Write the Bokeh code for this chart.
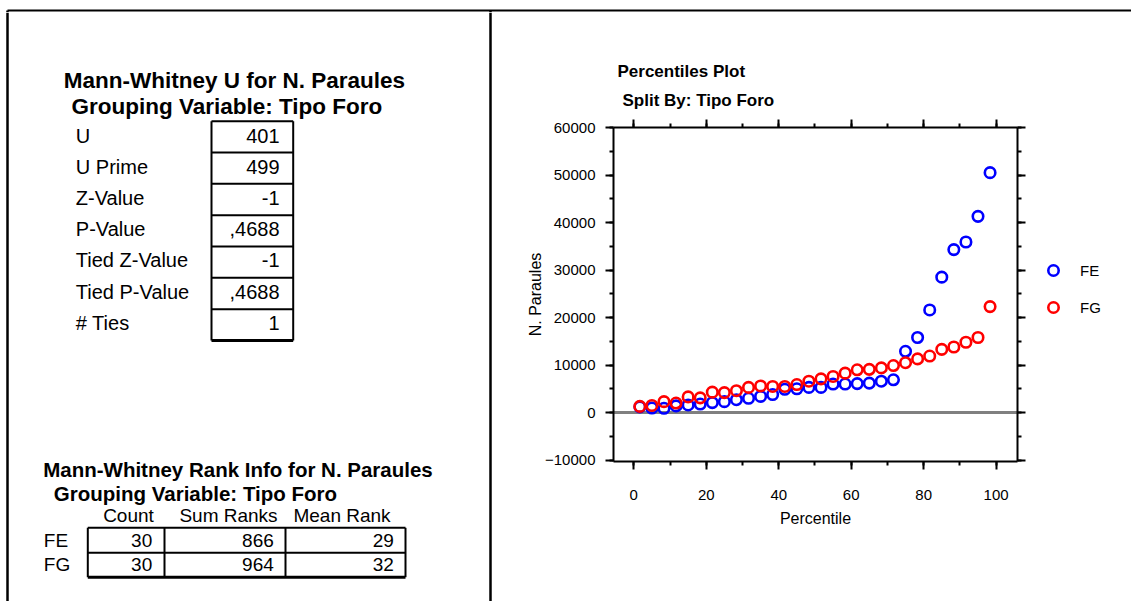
from bokeh.plotting import figure
from bokeh.layouts import column, row
from bokeh.models import (Range1d, LinearAxis, SingleIntervalTicker, Span, Legend, LegendItem,
                          Title, CustomJSTickFormatter)
from bokeh.core.properties import value
from bokeh.embed import file_html
from bokeh.resources import INLINE

FONT = "Liberation Sans"

# ---- Mann-Whitney U summary ----
stat_names = ["U", "U Prime", "Z-Value", "P-Value", "Tied Z-Value", "Tied P-Value", "# Ties"]
stat_values = ["401", "499", "-1", ",4688", "-1", ",4688", "1"]

# ---- Rank info ----
rank_groups = ["FE", "FG"]
rank_headers = ["Count", "Sum Ranks", "Mean Rank"]
rank_count = [30, 30]
rank_sum = [866, 964]
rank_mean = [29, 32]

# ---- Percentiles plot ----
percentile = [1.67, 5.0, 8.33, 11.67, 15.0, 18.33, 21.67, 25.0, 28.33, 31.67,
              35.0, 38.33, 41.67, 45.0, 48.33, 51.67, 55.0, 58.33, 61.67, 65.0,
              68.33, 71.67, 75.0, 78.33, 81.67, 85.0, 88.33, 91.67, 95.0, 98.33]
fe_words = [1200, 950, 900, 1400, 1600, 1800, 2100, 2300, 2700, 3000,
            3400, 3800, 4900, 5000, 5300, 5300, 6000, 6000, 6100, 6200,
            6600, 6900, 12900, 15800, 21600, 28500, 34300, 35900, 41300, 50500]
fg_words = [1300, 1500, 2300, 2000, 3300, 3100, 4300, 4200, 4600, 5300,
            5600, 5500, 5500, 5900, 6600, 7100, 7600, 8300, 9000, 9100,
            9400, 9900, 10500, 11300, 11900, 13300, 13800, 14800, 15800, 22300]
series_names = ["FE", "FG"]
series_colors = ["#0000FF", "#FF0000"]

MARKER = dict(marker="circle", size=10.5, fill_color=None, line_width=2.6)


def bare(fig):
    fig.grid.visible = False
    fig.outline_line_color = None
    fig.background_fill_color = "white"
    fig.border_fill_color = "white"
    fig.frame_align = False
    return fig


def write(fig, xs, ys, texts, size, align="left", bold=False):
    fig.text(x=xs, y=ys, text=texts, text_font=value(FONT), text_font_size=size,
             text_font_style="bold" if bold else "normal", text_baseline="middle",
             text_align=align, text_color="black")


# ---- top border strip ----
strip = bare(figure(width=1131, height=12, x_range=Range1d(0, 1131), y_range=Range1d(12, 0),
                    toolbar_location=None, output_backend="svg", min_border=0,
                    x_axis_location=None, y_axis_location=None))
strip.segment(x0=[7], y0=[10], x1=[1131], y1=[10], line_color="black", line_width=2)
strip.segment(x0=[7, 490], y0=[10, 10], x1=[7, 490], y1=[12, 12], line_color="black", line_width=2.5)

# ---- left panel: statistics tables (page pixel coordinates, y downwards) ----
left = bare(figure(width=492, height=589, x_range=Range1d(0, 492), y_range=Range1d(601, 12),
                   toolbar_location=None, output_backend="svg", min_border=0,
                   x_axis_location=None, y_axis_location=None))
left.segment(x0=[7, 490], y0=[12, 12], x1=[7, 490], y1=[601, 601], line_color="black", line_width=2.5)

write(left, [63.3, 71], [80, 106],
      ["Mann-Whitney U for N. Paraules", "Grouping Variable: Tipo Foro"], "22.5px", bold=True)

row_mid = [135 + 31.2 * i for i in range(len(stat_names))]
write(left, [75.3] * len(stat_names), row_mid, stat_names, "20px")
write(left, [279] * len(stat_values), row_mid, stat_values, "20px", align="right")

box_y = [120.7 + 31.33 * i for i in range(len(stat_names) + 1)]
left.segment(x0=[211] * 7, y0=box_y[:-1], x1=[292.7] * 7, y1=box_y[:-1], line_color="black", line_width=2)
left.segment(x0=[211], y0=[box_y[-1]], x1=[292.7], y1=[box_y[-1]], line_color="black", line_width=3)
left.segment(x0=[211, 292.7], y0=[box_y[0]] * 2, x1=[211, 292.7], y1=[box_y[-1]] * 2,
             line_color="black", line_width=2)

write(left, [42.7, 53.3], [469, 492.5],
      ["Mann-Whitney Rank Info for N. Paraules", "Grouping Variable: Tipo Foro"], "20.5px", bold=True)
write(left, [128, 228, 341.5], [515] * 3, rank_headers, "19px", align="center")
group_mid = [540, 564]
write(left, [43.3] * 2, group_mid, rank_groups, "19px")
for xr, vals in zip([151.7, 273.3, 393.3], [rank_count, rank_sum, rank_mean]):
    write(left, [xr] * 2, group_mid, [str(v) for v in vals], "19px", align="right")
col_x = [87.3, 164, 285, 405]
left.segment(x0=col_x, y0=[527.3] * 4, x1=col_x, y1=[576.7] * 4, line_color="black", line_width=2)
left.segment(x0=[87.3, 87.3], y0=[527.3, 552.3], x1=[405, 405], y1=[527.3, 552.3], line_color="black", line_width=2)
left.segment(x0=[87.3], y0=[576.7], x1=[405], y1=[576.7], line_color="black", line_width=3)

# ---- percentiles plot ----
p = figure(width=545, height=589, x_range=Range1d(-5.6, 105.9), y_range=Range1d(-10300, 60000),
           toolbar_location=None, output_backend="svg",
           min_border_left=121, min_border_right=20, min_border_top=115, min_border_bottom=140)
bare(p)


def style_axis(ax):
    ax.axis_line_width = 2
    ax.axis_line_color = "black"
    ax.major_tick_line_width = 2
    ax.minor_tick_line_width = 2
    ax.major_tick_in = 0
    ax.major_tick_out = 8
    ax.minor_tick_in = 0
    ax.minor_tick_out = 4
    ax.major_label_text_font = FONT
    ax.major_label_text_font_size = "15px"
    ax.major_label_text_color = "black"
    ax.axis_label_text_font = FONT
    ax.axis_label_text_font_size = "16px"
    ax.axis_label_text_font_style = "normal"
    ax.axis_label_text_color = "black"


p.xaxis.ticker = SingleIntervalTicker(interval=20, num_minor_ticks=2)
p.yaxis.ticker = SingleIntervalTicker(interval=10000, num_minor_ticks=2)
p.xaxis.axis_label = "Percentile"
p.yaxis.axis_label = "N. Paraules"
for ax in p.xaxis + p.yaxis:
    style_axis(ax)
p.xaxis.major_label_standoff = 20
p.yaxis.major_label_standoff = 10
p.xaxis.axis_label_standoff = 7
p.yaxis.axis_label_standoff = -2

# tick-only axes on the top and right edges
blank = CustomJSTickFormatter(code="return ''")
top_ax = LinearAxis(ticker=SingleIntervalTicker(interval=20, num_minor_ticks=2), formatter=blank)
right_ax = LinearAxis(ticker=SingleIntervalTicker(interval=10000, num_minor_ticks=2), formatter=blank)
for ax in (top_ax, right_ax):
    style_axis(ax)
    ax.major_label_standoff = 0
p.add_layout(top_ax, "above")
p.add_layout(right_ax, "right")

zero = Span(location=0, dimension="width", line_color="#808080", line_width=3, level="underlay")
p.add_layout(zero)

for ys, c in zip([fe_words, fg_words], series_colors):
    p.scatter(percentile, ys, line_color=c, **MARKER)

# two-line heading above the plot
p.add_layout(Title(text="Split By: Tipo Foro", align="left", offset=9, standoff=19,
                   text_font=FONT, text_font_size="17px", text_font_style="bold",
                   text_color="black"), "above")
p.title.text = "Percentiles Plot"
p.title.align = "left"
p.title.offset = 4
p.title.standoff = -3
p.title.text_font = FONT
p.title.text_font_size = "17px"
p.title.text_font_style = "bold"
p.title.text_color = "black"

# ---- legend column to the right of the plot ----
# each key renderer holds one point outside the visible range so its legend glyph is drawn
key = bare(figure(width=94, height=589, x_range=Range1d(0, 94), y_range=Range1d(0, 589),
                  toolbar_location=None, output_backend="svg", min_border=0,
                  x_axis_location=None, y_axis_location=None))
key_items = []
for n, c in zip(series_names, series_colors):
    r = key.scatter(x=[-100], y=[-100], line_color=c, **MARKER)
    key_items.append(LegendItem(label=n, renderers=[r]))
key.add_layout(Legend(items=key_items, location=(3, 281), orientation="vertical",
                      glyph_width=26, glyph_height=26, spacing=11, padding=0, margin=0,
                      label_standoff=14, label_text_font=FONT, label_text_font_size="15px",
                      label_text_color="black", border_line_color=None, background_fill_alpha=0))

layout = column(strip, row(left, p, key, spacing=0), spacing=0)
open("out.html", "w").write(file_html(layout, INLINE))
